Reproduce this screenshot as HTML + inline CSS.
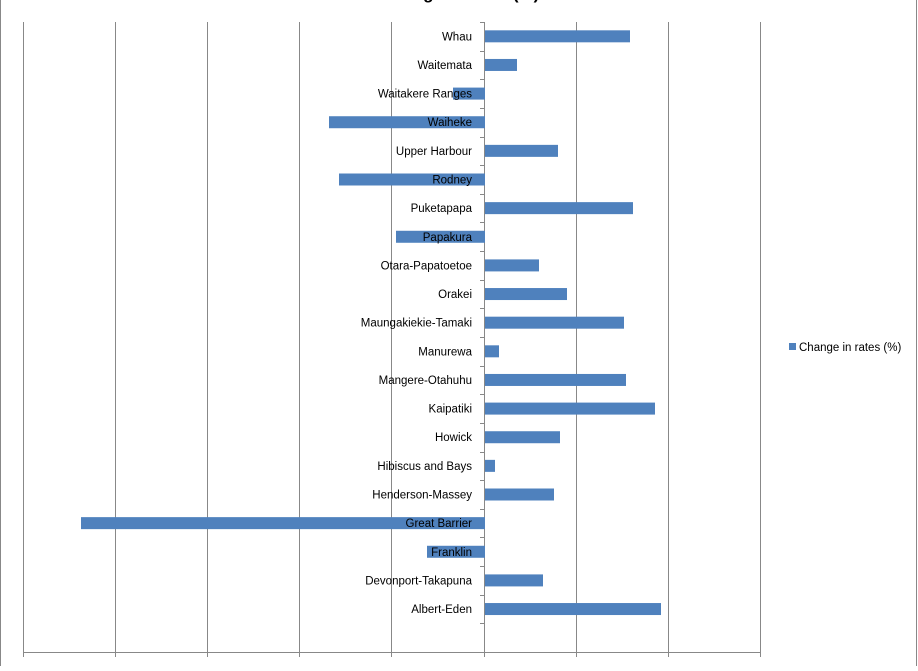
<!DOCTYPE html>
<html><head><meta charset="utf-8"><style>
html,body{margin:0;padding:0;background:#fff}
svg text{font-family:"Liberation Sans",sans-serif;font-size:11.5px;fill:#000}
</style></head><body>
<svg width="918" height="666" xmlns="http://www.w3.org/2000/svg">
<rect x="0.5" y="-5" width="916" height="680" fill="#fff" stroke="#888"/>
<text x="460" y="-1" text-anchor="middle" style="font-size:17px;font-weight:bold">Change in rates (%)</text>
<g stroke="#888" stroke-width="1">
<line x1="23.5" y1="22" x2="23.5" y2="657"/>
<line x1="115.5" y1="22" x2="115.5" y2="657"/>
<line x1="207.5" y1="22" x2="207.5" y2="657"/>
<line x1="299.5" y1="22" x2="299.5" y2="657"/>
<line x1="391.5" y1="22" x2="391.5" y2="657"/>
<line x1="576.5" y1="22" x2="576.5" y2="657"/>
<line x1="668.5" y1="22" x2="668.5" y2="657"/>
<line x1="760.5" y1="22" x2="760.5" y2="657"/>
<line x1="23" y1="652.5" x2="761" y2="652.5"/>
<line x1="484.5" y1="22" x2="484.5" y2="657"/>
</g>
<g stroke="#888" id="ticks"></g>
<g fill="#4f81bd" id="bars"></g>
<g id="labels" text-anchor="end"></g>
<rect x="789" y="343" width="7" height="7" fill="#4f81bd"/>
<text x="799" y="351">Change in rates (%)</text>
<script>
var d=[["Whau",630],["Waitemata",517],["Waitakere Ranges",453],["Waiheke",329],["Upper Harbour",558],["Rodney",339],["Puketapapa",633],["Papakura",396],["Otara-Papatoetoe",539],["Orakei",567],["Maungakiekie-Tamaki",624],["Manurewa",499],["Mangere-Otahuhu",626],["Kaipatiki",655],["Howick",560],["Hibiscus and Bays",495],["Henderson-Massey",554],["Great Barrier",81],["Franklin",427],["Devonport-Takapuna",543],["Albert-Eden",661]];
var ns="http://www.w3.org/2000/svg",B=document.getElementById("bars"),L=document.getElementById("labels"),T=document.getElementById("ticks");
var step=630/22;
for(var i=0;i<=22;i++){var y=Math.round(22+i*step)+0.5;var l=document.createElementNS(ns,"line");l.setAttribute("x1",480);l.setAttribute("x2",485);l.setAttribute("y1",y);l.setAttribute("y2",y);T.appendChild(l);}
d.forEach(function(e,i){var c=22+(i+0.5)*step;var r=document.createElementNS(ns,"rect");var x0=Math.min(485,e[1]),x1=Math.max(485,e[1]);r.setAttribute("x",x0);r.setAttribute("width",x1-x0);r.setAttribute("y",c-6);r.setAttribute("height",12);B.appendChild(r);
var t=document.createElementNS(ns,"text");t.setAttribute("x",472);t.setAttribute("y",c+4);t.textContent=e[0];L.appendChild(t);});
</script>
</svg>
</body></html>
